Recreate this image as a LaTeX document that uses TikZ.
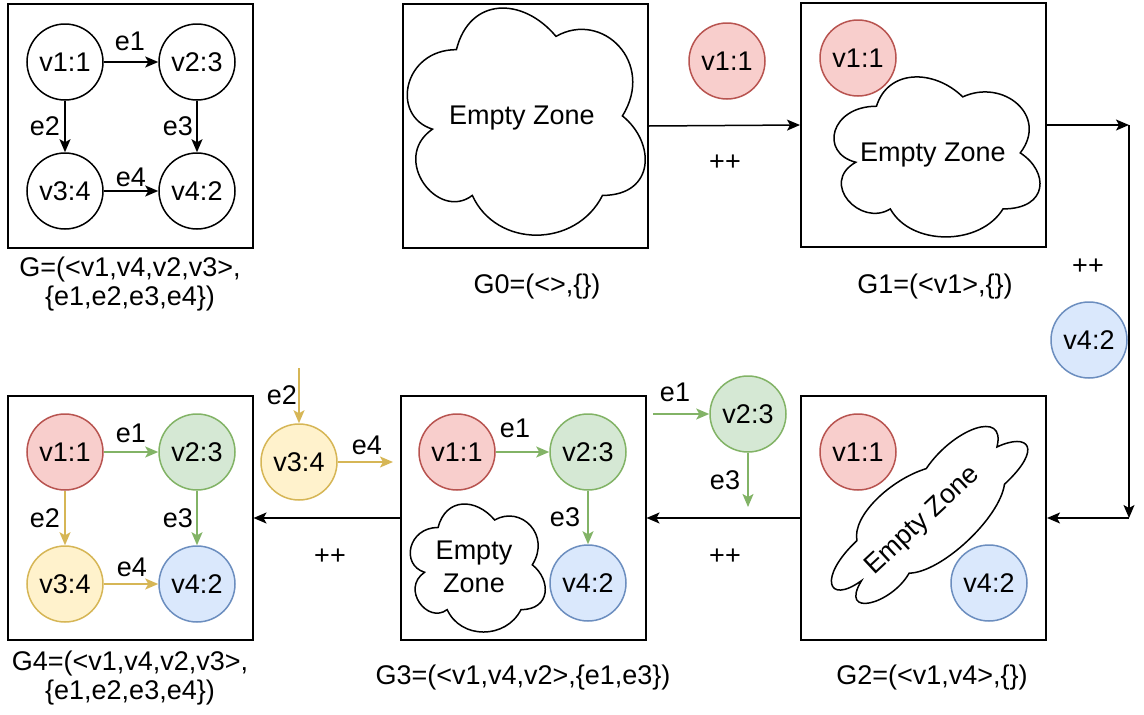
\documentclass[tikz,border=0pt]{standalone}
\usepackage{fontspec}
\setmainfont{Liberation Sans}
\usetikzlibrary{arrows.meta}
\definecolor{redF}{HTML}{F8CECC}\definecolor{redS}{HTML}{B85450}
\definecolor{grnF}{HTML}{D5E8D4}\definecolor{grnS}{HTML}{82B366}
\definecolor{bluF}{HTML}{DAE8FC}\definecolor{bluS}{HTML}{6C8EBF}
\definecolor{yelF}{HTML}{FFF2CC}\definecolor{yelS}{HTML}{D6B656}
\tikzset{
  txt/.style={font=\fontsize{27}{29}\selectfont, inner sep=0pt},
  box/.style={draw, line width=2pt, minimum width=245pt, minimum height=244pt, inner sep=0pt},
  vtx/.style={circle, draw, line width=1.5pt, minimum size=76pt, inner sep=0pt, font=\fontsize{27}{29}\selectfont},
  wv/.style={vtx, fill=white},
  rv/.style={vtx, fill=redF, draw=redS},
  gv/.style={vtx, fill=grnF, draw=grnS},
  bv/.style={vtx, fill=bluF, draw=bluS},
  yv/.style={vtx, fill=yelF, draw=yelS},
  arr/.style={line width=1.5pt, -{Stealth[length=13pt,width=11pt,inset=3pt]}},
  garr/.style={arr, draw=grnS},
  yarr/.style={arr, draw=yelS},
  cloudpic/.pic={\draw[line width=1.5pt, fill=white]
    (-0.25,-0.25) .. controls (-0.45,-0.25) and (-0.5,0) .. (-0.34,0.05)
    .. controls (-0.5,0.16) and (-0.32,0.4) .. (-0.19,0.3)
    .. controls (-0.1,0.5) and (0.2,0.5) .. (0.3,0.3)
    .. controls (0.5,0.3) and (0.5,0.1) .. (0.375,0)
    .. controls (0.5,-0.2) and (0.3,-0.4) .. (0.125,-0.3)
    .. controls (0,-0.45) and (-0.2,-0.45) .. (-0.25,-0.25) -- cycle;}
}
\begin{document}
\begin{tikzpicture}[x=1pt,y=-1pt]
\useasboundingbox (0,0) rectangle (1144,715);
% ---------- G ----------
\node[box] (G) at (130,126) {};
\node[wv] (a1) at (65,62) {v1:1};
\node[wv] (a2) at (197,62) {v2:3};
\node[wv] (a3) at (65,191) {v3:4};
\node[wv] (a4) at (197,191) {v4:2};
\draw[arr] (a1) -- (a2);
\draw[arr] (a1) -- (a3);
\draw[arr] (a2) -- (a4);
\draw[arr] (a3) -- (a4);
\node[txt] (la1) at (130,41) {e1};
\node[txt] (la2) at (45,126) {e2};
\node[txt] (la3) at (178,126) {e3};
\node[txt] (la4) at (131,177) {e4};
\node[txt, align=center] (capG) at (130,284) {G=(<v1,v4,v2,v3>,\\\{e1,e2,e3,e4\})};
% ---------- G0 ----------
\node[box] (G0) at (525.5,126) {};
\pic[xscale=265.6, yscale=265] at (522.8,115.9) {cloudpic};
\node[txt] (ez0) at (522,118) {Empty Zone};
\node[txt] (cap0) at (537,287) {G0=(<>,\{\})};
\node[rv] (r0) at (727,61) {v1:1};
\node[txt] (pp0) at (725,163) {++};
% ---------- G1 ----------
\node[box] (G1) at (923.5,125) {};
\pic[xscale=230, yscale=186.7] at (934,152.9) {cloudpic};
\node[txt] (ez1) at (933,155) {Empty Zone};
\node[rv] (r1) at (858,58) {v1:1};
\node[txt] (cap1) at (935,287) {G1=(<v1>,\{\})};
\draw[arr] (G0.east) -- (G1.west);
\coordinate (k1) at (1129,125);
\coordinate (k2) at (1129,518);
\draw[arr] (G1.east) -- (k1);
\draw[arr] (k1) -- (k2);
\node[txt] (pp1) at (1088,267) {++};
\node[bv] (b0) at (1089,340) {v4:2};
% ---------- G2 ----------
\node[box] (G2) at (923.5,518) {};
\pic[rotate=43, xscale=266, yscale=108] at (924,515) {cloudpic};
\node[txt, rotate=43] (ez2) at (923,521) {Empty Zone};
\node[rv] (r2) at (858,452) {v1:1};
\node[bv] (b2) at (989,583) {v4:2};
\node[txt] (cap2) at (932,678) {G2=(<v1,v4>,\{\})};
\draw[arr] (k2) -- (G2.east);
% ---------- G3 ----------
\node[box] (G3) at (523,518) {};
\pic[xscale=150.7, yscale=149.4] at (475.8,564.8) {cloudpic};
\node[txt, align=center, font=\fontsize{27}{33}\selectfont] (ez3) at (474,567) {Empty\\Zone};
\node[rv] (r3) at (457,452) {v1:1};
\node[gv] (g3) at (588,452) {v2:3};
\node[bv] (b3) at (588,583) {v4:2};
\draw[garr] (r3) -- (g3);
\draw[garr] (g3) -- (b3);
\node[txt] (l3a) at (515,428) {e1};
\node[txt] (l3b) at (565,517) {e3};
\node[txt] (cap3) at (523,678) {G3=(<v1,v4,v2>,\{e1,e3\})};
\draw[arr] (G2.west) -- (G3.east);
\node[txt] (pp2) at (725,557) {++};
\node[gv] (g0) at (748,414) {v2:3};
\coordinate (s1) at (653,414);
\coordinate (s2) at (748,507);
\draw[garr] (s1) -- (g0);
\draw[garr] (g0) -- (s2);
\node[txt] (ls1) at (675,392) {e1};
\node[txt] (ls2) at (725,480) {e3};
% ---------- G4 ----------
\node[box] (G4) at (130,518) {};
\node[rv] (r4) at (65,452) {v1:1};
\node[gv] (g4) at (197,452) {v2:3};
\node[yv] (y4) at (65,584) {v3:4};
\node[bv] (b4) at (197,584) {v4:2};
\draw[garr] (r4) -- (g4);
\draw[yarr] (r4) -- (y4);
\draw[garr] (g4) -- (b4);
\draw[yarr] (y4) -- (b4);
\node[txt] (l4a) at (131,433) {e1};
\node[txt] (l4b) at (45,518) {e2};
\node[txt] (l4c) at (178,518) {e3};
\node[txt] (l4d) at (132,567) {e4};
\node[txt, align=center] (cap4) at (130,678) {G4=(<v1,v4,v2,v3>,\\\{e1,e2,e3,e4\})};
\draw[arr] (G3.west) -- (G4.east);
\node[txt] (pp3) at (330,557) {++};
\node[yv] (y0) at (299,462) {v3:4};
\coordinate (t1) at (299,368);
\coordinate (t2) at (393,462);
\draw[yarr] (t1) -- (y0);
\draw[yarr] (y0) -- (t2);
\node[txt] (lt1) at (282,395) {e2};
\node[txt] (lt2) at (367,445) {e4};
\end{tikzpicture}
\end{document}
